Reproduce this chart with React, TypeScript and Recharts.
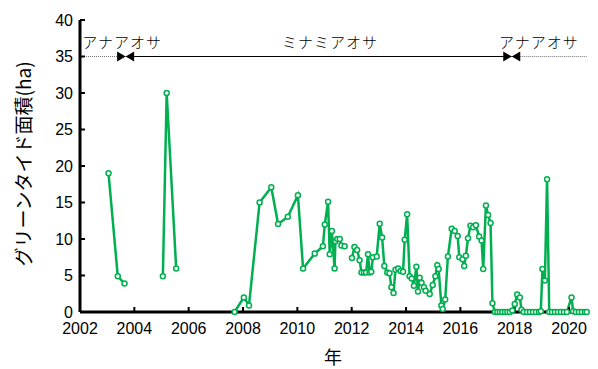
import { LineChart, Line, XAxis, YAxis, ReferenceLine, ReferenceDot } from 'recharts';

// observation dates (decimal years); null breaks the line
const years = [
  2003.05, 2003.39, 2003.64, 2004.3,
  2005.05, 2005.19, 2005.54, 2006.5,
  2007.69, 2008.03, 2008.22, 2008.61, 2009.04, 2009.29, 2009.65, 2010.02, 2010.21, 2010.64,
  2010.94, 2011.01, 2011.13, 2011.19, 2011.27, 2011.37, 2011.4, 2011.47, 2011.56, 2011.62, 2011.74, 2011.85,
  2012.01, 2012.1, 2012.2, 2012.29, 2012.36, 2012.45, 2012.53, 2012.6, 2012.66, 2012.72, 2012.78, 2012.92,
  2013.03, 2013.12, 2013.2, 2013.31, 2013.39, 2013.46, 2013.54, 2013.61, 2013.71, 2013.8, 2013.89, 2013.95,
  2014.04, 2014.13, 2014.21, 2014.29, 2014.38, 2014.44, 2014.5, 2014.57, 2014.66, 2014.72, 2014.87, 2014.98,
  2015.08, 2015.15, 2015.2, 2015.3, 2015.35, 2015.44, 2015.54, 2015.68, 2015.79, 2015.9, 2015.96,
  2016.08, 2016.14, 2016.2, 2016.28, 2016.37, 2016.47, 2016.57, 2016.69, 2016.78, 2016.84, 2016.94,
  2017.02, 2017.11, 2017.18, 2017.27, 2017.36, 2017.45, 2017.54, 2017.64, 2017.73, 2017.82, 2017.91,
  2018.0, 2018.09, 2018.19, 2018.25, 2018.33, 2018.45, 2018.56, 2018.67, 2018.78, 2018.89, 2018.96,
  2019.02, 2019.11, 2019.19, 2019.27, 2019.37, 2019.48, 2019.59, 2019.7, 2019.81, 2019.92,
  2020.09, 2020.15, 2020.25, 2020.36, 2020.47, 2020.58, 2020.65,
];

// green tide area (ha)
const areas: (number | null)[] = [
  19.0, 4.9, 3.9, null,
  4.9, 30.0, 5.95, null,
  0, 2.0, 0.9, 15.0, 17.1, 12.05, 13.05, 16.0, 5.95, 8.0,
  9.0, 12.0, 15.1, 7.9, 11.1, 5.95, 9.7, 10.0, 10.0, 9.1, 9.0, null,
  7.4, 8.9, 8.5, 7.1, 5.4, 5.4, 5.4, 7.9, 5.4, 5.5, 7.5, 7.6,
  12.1, 10.2, 6.3, 5.4, 5.3, 3.4, 2.6, 5.8, 5.95, 5.6, 5.5, 9.9,
  13.4, 4.9, 4.6, 3.6, 6.2, 2.8, 4.7, 4.0, 3.4, 2.9, 2.45, 3.7,
  4.9, 6.4, 5.9, 0.9, 0.4, 1.7, 7.6, 11.4, 11.1, 10.4, 7.5,
  7.24, 6.3, 7.7, 10.1, 11.8, 11.6, 11.9, 10.35, 9.8, 5.9, 14.6,
  13.3, 12.2, 1.2, 0, 0, 0, 0, 0, 0, 0, 0.2,
  1.1, 2.4, 2.0, 0.3, 0, 0, 0, 0, 0, 0, 0.1,
  5.9, 4.3, 18.2, 0, 0, 0, 0, 0, 0, 0,
  2.0, 0.1, 0, 0, 0, 0, 0,
];

const xTicks = [2002, 2004, 2006, 2008, 2010, 2012, 2014, 2016, 2018, 2020];
const yTicks = [0, 5, 10, 15, 20, 25, 30, 35, 40];

const speciesNames = ['アナアオサ', 'ミナミアオサ', 'アナアオサ'];
const speciesCenters = [2003.55, 2011.2, 2018.89];
const switchYears = [2003.68, 2017.89];

const X_MIN = 2002;
const X_MAX = 2020.66;
const Y_MAX = 40;
const MARK_Y = 35;
const LABEL_Y = 37;

const data = years.map((year, i) => ({ year, area: areas[i] }));

const GREEN = '#00B050';
const tickFont = { fontFamily: '"Liberation Sans", Arial, sans-serif', fontSize: 16, fill: '#000' };
const frameLine = { stroke: '#000', strokeWidth: 3 };

const Bowtie = (props: any) => {
  const { cx, cy } = props;
  const w = 8.5;
  const h = 5;
  return (
    <g fill="#000">
      <polygon points={`${cx - w},${cy - h} ${cx - w},${cy + h} ${cx},${cy}`} />
      <polygon points={`${cx + w},${cy - h} ${cx + w},${cy + h} ${cx},${cy}`} />
    </g>
  );
};

const nameShape = (name: string) => (props: any) => (
  <text
    x={props.cx}
    y={props.cy}
    textAnchor="middle"
    dominantBaseline="central"
    fontFamily='"Noto Sans CJK JP", sans-serif'
    fontWeight={300}
    fontSize={15}
    letterSpacing={1}
    fill="#000"
  >
    {name}
  </text>
);

const YTitle = () => (
  <text
    x={22}
    y={164}
    transform="rotate(-90, 22, 164)"
    textAnchor="middle"
    dominantBaseline="central"
    fontFamily='"Noto Sans CJK JP", sans-serif'
    fontSize={19}
    fill="#000"
  >
    グリーンタイド面積(ha)
  </text>
);

const XTitle = () => (
  <text
    x={333}
    y={356}
    textAnchor="middle"
    dominantBaseline="central"
    fontFamily='"Noto Sans CJK JP", sans-serif'
    fontSize={18}
    fill="#000"
  >
    年
  </text>
);

export default function App() {
  return (
    <div style={{ position: 'absolute', left: 0, top: 0 }}>
      <LineChart width={598} height={369} data={data} margin={{ top: 20, right: 11, bottom: 17, left: 0 }}>
        <XAxis
          dataKey="year"
          type="number"
          domain={[X_MIN, X_MAX]}
          ticks={xTicks}
          height={40}
          axisLine={frameLine}
          tickSize={-5}
          tickMargin={16}
          tickLine={{ stroke: '#000', strokeWidth: 2 }}
          tick={tickFont}
          label={<XTitle />}
        />
        <XAxis
          xAxisId="top"
          orientation="top"
          type="number"
          domain={[X_MIN, X_MAX]}
          height={0}
          axisLine={frameLine}
          tick={false}
          tickLine={false}
        />
        <YAxis
          type="number"
          domain={[0, Y_MAX]}
          ticks={yTicks}
          width={80}
          axisLine={frameLine}
          tickSize={-5}
          tickMargin={12}
          tickLine={{ stroke: '#000', strokeWidth: 2 }}
          tick={tickFont}
          label={<YTitle />}
        />
        <YAxis
          yAxisId="right"
          orientation="right"
          type="number"
          domain={[0, Y_MAX]}
          width={0}
          axisLine={frameLine}
          tick={false}
          tickLine={false}
        />
        <ReferenceLine
          segment={[{ x: X_MIN, y: MARK_Y }, { x: switchYears[0], y: MARK_Y }]}
          stroke="#777"
          strokeWidth={1}
          strokeDasharray="1 1"
        />
        <ReferenceLine
          segment={[{ x: switchYears[0], y: MARK_Y }, { x: switchYears[1], y: MARK_Y }]}
          stroke="#000"
          strokeWidth={1}
        />
        <ReferenceLine
          segment={[{ x: switchYears[1], y: MARK_Y }, { x: X_MAX, y: MARK_Y }]}
          stroke="#777"
          strokeWidth={1}
          strokeDasharray="1 1"
        />
        {switchYears.map((x, i) => (
          <ReferenceDot key={`b${i}`} x={x} y={MARK_Y} r={0} shape={Bowtie} />
        ))}
        {speciesNames.map((name, i) => (
          <ReferenceDot key={`n${i}`} x={speciesCenters[i]} y={LABEL_Y} r={0} shape={nameShape(name)} />
        ))}
        <Line
          type="linear"
          dataKey="area"
          stroke={GREEN}
          strokeWidth={2.5}
          connectNulls={false}
          dot={{ r: 2.5, fill: '#fff', stroke: GREEN, strokeWidth: 1.5 }}
          isAnimationActive={false}
        />
      </LineChart>
    </div>
  );
}
